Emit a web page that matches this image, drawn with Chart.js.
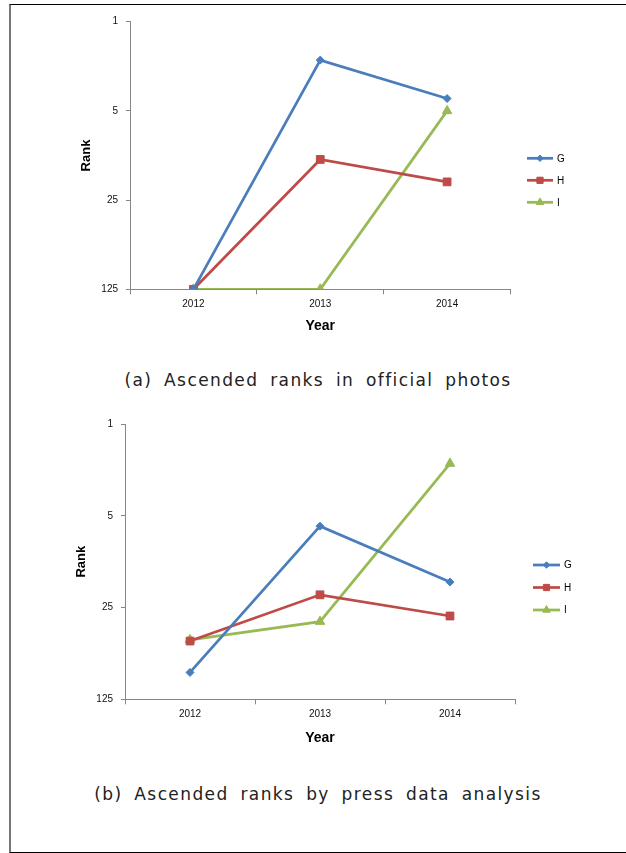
<!DOCTYPE html>
<html>
<head>
<meta charset="utf-8">
<script src="https://cdn.jsdelivr.net/npm/chart.js@4/dist/chart.umd.min.js"></script>
<style>
  html, body { margin: 0; padding: 0; background: #fff; }
  #page { position: relative; width: 626px; height: 853px; overflow: hidden; }
  #frame {
    position: absolute; left: 9px; top: 4px; width: 615px; height: 847px;
    border-top: 1px solid #000; border-bottom: 1px solid #000;
    border-left: 2px solid #777; border-right: 1px solid #ccc;
  }
  canvas { position: absolute; left: 0; }
  #c1 { top: 0; }
  #c2 { top: 410px; }
  .cap {
    position: absolute; left: 0; width: 636px; text-align: center;
    font-family: "DejaVu Sans", sans-serif; font-size: 17px; color: #222;
    word-spacing: 5px; letter-spacing: 1.4px; white-space: nowrap;
  }
  #capA { top: 370px; }
  #capB { top: 784px; }
</style>
</head>
<body>
<div id="page">
  <div id="frame"></div>
  <canvas id="c1" width="626" height="350"></canvas>
  <div class="cap" id="capA">(a) Ascended ranks in official photos</div>
  <canvas id="c2" width="626" height="345"></canvas>
  <div class="cap" id="capB">(b) Ascended ranks by press data analysis</div>
</div>
<script>
// Years on the category axis and rank ticks on the (reversed, log) value axis
const years = ['2012', '2013', '2014'];
const rankTicks = [1, 5, 25, 125];
const seriesNames = ['G', 'H', 'I'];

// (a) ranks in official photos
const officialG = [125, 2, 4];
const officialH = [125, 12, 18];
const officialI = [125, 125, 5];

// (b) ranks by press data analysis
const pressG = [78, 6, 16];
const pressH = [45, 20, 29];
const pressI = [44, 32, 2];

const COLORS = ['#4a7ebb', '#be4b48', '#98b954'];
const STYLES = [
  { pointStyle: 'rectRot', radius: 4 },
  { pointStyle: 'rect', radius: 5.5 },
  { pointStyle: 'triangle', radius: 5.5 }
];
const AXIS = '#868686';

// Legend on the right: short line with the series marker in its middle
const sideLegend = {
  id: 'sideLegend',
  afterDraw(chart, args, opts) {
    const ctx = chart.ctx;
    ctx.save();
    chart.data.datasets.forEach((ds, i) => {
      const y = opts.y0 + i * opts.gap;
      ctx.strokeStyle = ds.borderColor;
      ctx.lineWidth = ds.borderWidth;
      ctx.beginPath();
      ctx.moveTo(opts.x, y);
      ctx.lineTo(opts.x + opts.len, y);
      ctx.stroke();
      ctx.fillStyle = ds.pointBackgroundColor;
      ctx.strokeStyle = ds.pointBorderColor;
      ctx.lineWidth = 1;
      Chart.helpers.drawPoint(ctx, {
        pointStyle: ds.pointStyle,
        radius: ds.pointRadius * 0.8,
        rotation: 0,
        borderWidth: 1
      }, opts.x + opts.len / 2, y);
      ctx.fillStyle = '#000';
      ctx.font = '10px "Liberation Sans", Arial, sans-serif';
      ctx.textBaseline = 'middle';
      ctx.textAlign = 'left';
      ctx.fillText(ds.label, opts.x + opts.len + 4, y + 0.5);
    });
    ctx.restore();
  }
};

function buildChart(id, values, geo) {
  const datasets = values.map((data, i) => ({
    label: seriesNames[i],
    data: data,
    borderColor: COLORS[i],
    backgroundColor: COLORS[i],
    pointBackgroundColor: COLORS[i],
    pointBorderColor: COLORS[i],
    borderWidth: 2.75,
    pointStyle: STYLES[i].pointStyle,
    pointRadius: STYLES[i].radius,
    pointBorderWidth: 1,
    tension: 0
  }));

  return new Chart(document.getElementById(id), {
    type: 'line',
    data: { labels: years, datasets: datasets },
    options: {
      responsive: false,
      animation: false,
      events: [],
      layout: {
        padding: { left: 0, right: geo.padRight, top: geo.padTop, bottom: 0 }
      },
      plugins: {
        legend: { display: false },
        tooltip: { enabled: false },
        sideLegend: geo.legend
      },
      scales: {
        x: {
          type: 'category',
          offset: true,
          grid: {
            offset: true,
            drawOnChartArea: false,
            drawTicks: true,
            tickLength: 5,
            color: AXIS
          },
          border: { display: true, color: AXIS, width: 1 },
          ticks: {
            color: '#111',
            padding: 4,
            font: { family: '"Liberation Sans", Arial, sans-serif', size: 10 }
          },
          title: {
            display: true,
            text: 'Year',
            color: '#000',
            font: { family: '"Liberation Sans", Arial, sans-serif', size: 14, weight: 'bold' },
            padding: { top: 0, bottom: geo.yearPad }
          },
          afterFit(scale) { scale.height = geo.xHeight; }
        },
        y: {
          type: 'logarithmic',
          reverse: true,
          min: 1,
          max: 125,
          grid: {
            drawOnChartArea: false,
            drawTicks: true,
            tickLength: 4,
            color: AXIS
          },
          border: { display: true, color: AXIS, width: 1 },
          afterBuildTicks(scale) {
            scale.ticks = rankTicks.map(v => ({ value: v }));
          },
          ticks: {
            autoSkip: false,
            color: '#111',
            padding: 8,
            font: { family: '"Liberation Sans", Arial, sans-serif', size: 10 },
            callback: (v) => String(v)
          },
          title: {
            display: true,
            text: 'Rank',
            color: '#000',
            font: { family: '"Liberation Sans", Arial, sans-serif', size: 13, weight: 'bold' },
            padding: { top: geo.rankPad, bottom: 0 }
          },
          afterFit(scale) { scale.width = geo.yWidth; }
        }
      }
    },
    plugins: [sideLegend]
  });
}

buildChart('c1', [officialG, officialH, officialI], {
  padRight: 115.5, padTop: 21.7, xHeight: 60.7, yWidth: 130,
  yearPad: 15, rankPad: 79,
  legend: { x: 527, len: 26, y0: 158.3, gap: 22 }
});

buildChart('c2', [pressG, pressH, pressI], {
  padRight: 111, padTop: 14, xHeight: 55.7, yWidth: 125,
  yearPad: 8.6, rankPad: 74,
  legend: { x: 533, len: 27, y0: 155, gap: 22.5 }
});
</script>
</body>
</html>
